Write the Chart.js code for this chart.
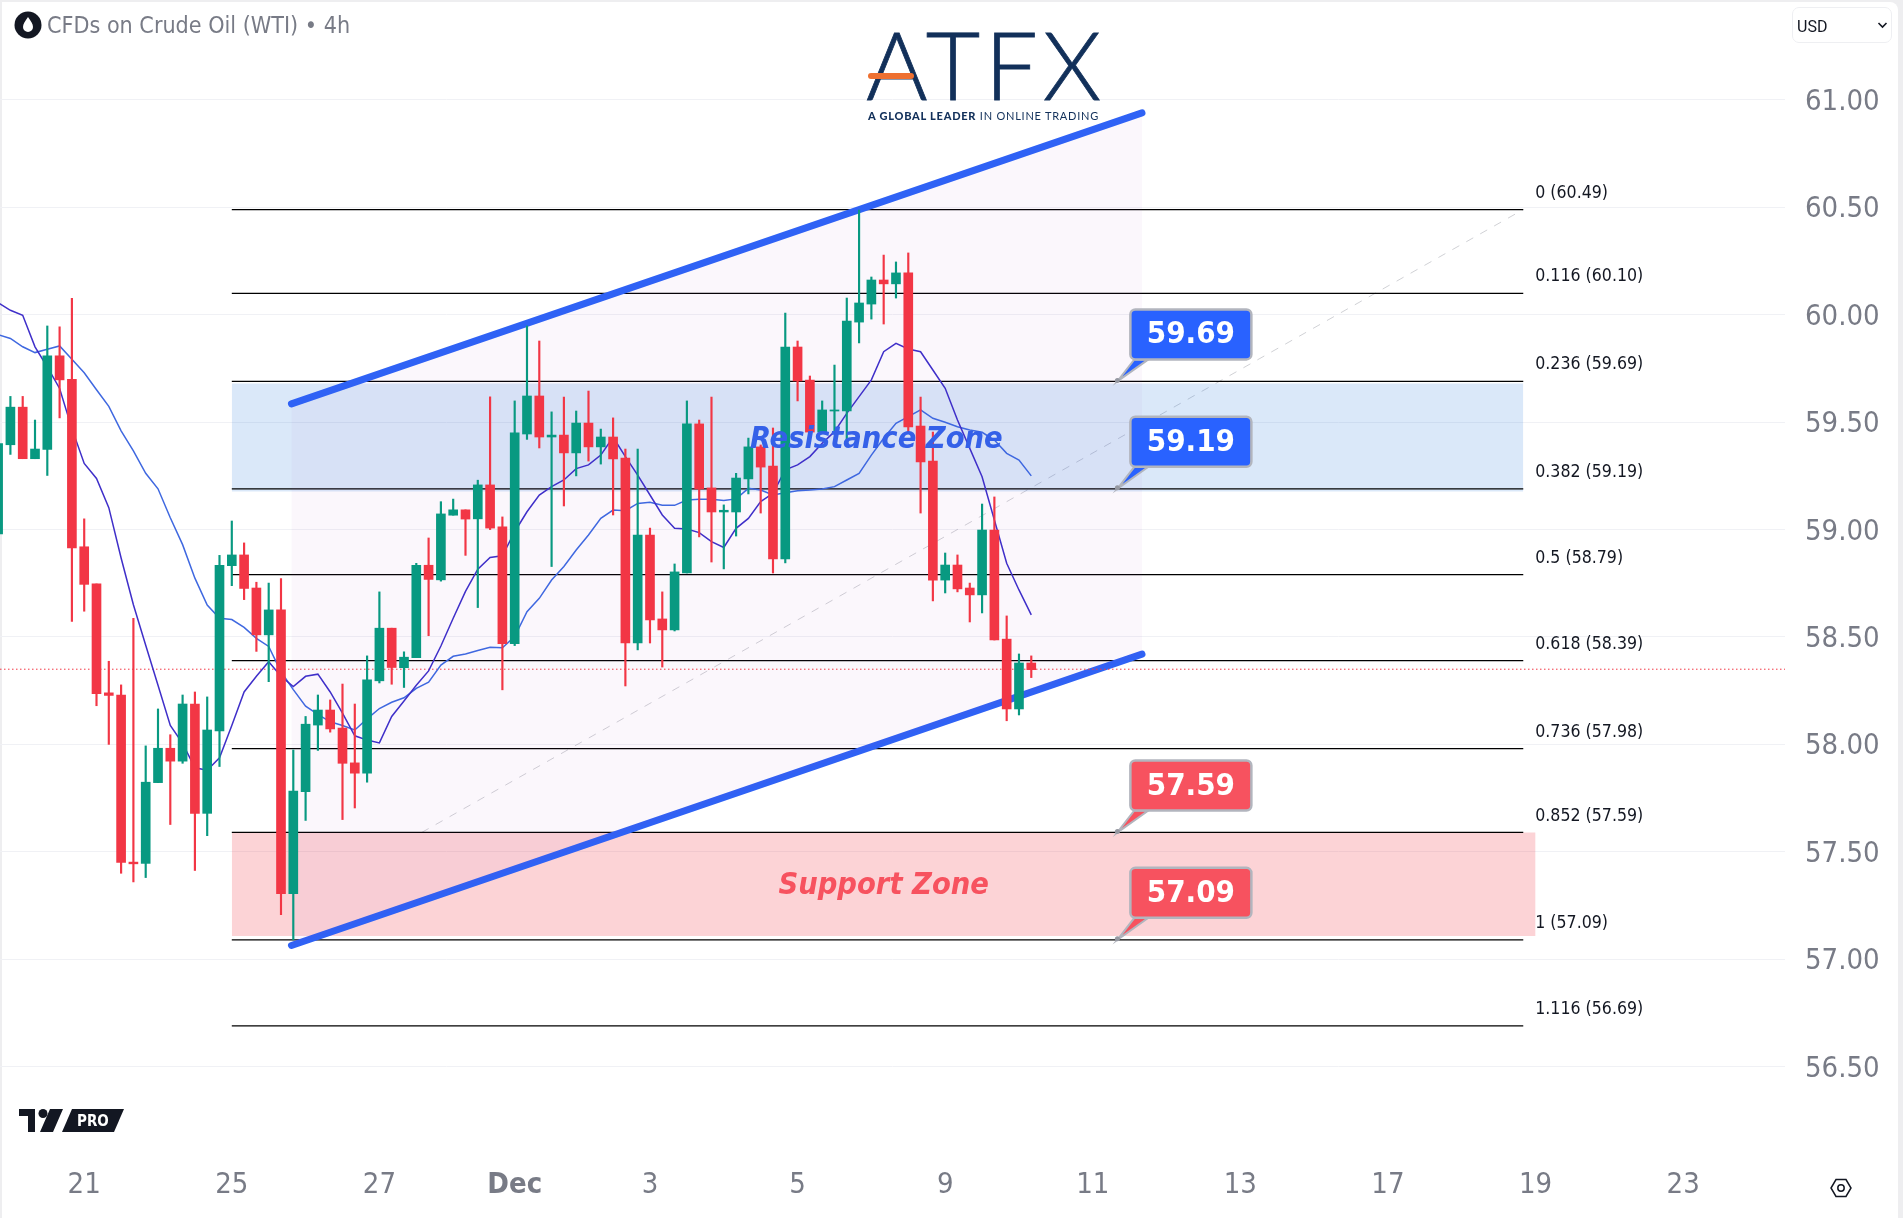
<!DOCTYPE html>
<html>
<head>
<meta charset="utf-8">
<title>CFDs on Crude Oil (WTI)</title>
<script src="https://cdn.jsdelivr.net/npm/chart.js@4/dist/chart.umd.min.js"></script>
<style>
  html, body { margin: 0; padding: 0; width: 1903px; height: 1218px; overflow: hidden; background: #eeeef0; }
  #panel { position: absolute; left: 2px; top: 2px; width: 1896px; height: 1216px; background: #fff; border-radius: 0 8px 0 0; }
  #chart { position: absolute; left: 0; top: 0; }
  .abs { position: absolute; white-space: nowrap; }
  #name { left: 47px; top: 12px; font: 23.1px "DejaVu Sans Condensed", "DejaVu Sans", sans-serif; color: #787b86; }
  #brand { left: 866px; top: 9px; font: 300 94px/110px Lato, sans-serif; color: #12305a; letter-spacing: 4.7px; -webkit-text-stroke: 0.8px #12305a; }
  #bar { left: 868px; top: 73px; width: 46px; height: 6px; border-radius: 3px; background: #ee7030; }
  #tag { left: 868px; top: 109px; font: 11px/14px Lato, sans-serif; color: #12305a; letter-spacing: 0.76px; }
  #tag b { font-weight: 900; }
  #cur { left: 1792px; top: 7px; width: 100px; height: 36px; box-sizing: border-box; border: 1px solid #eeeff2; border-radius: 7px; font: 16px/37px Roboto, sans-serif; color: #131722; padding-left: 4px; }
  #pro { left: 62px; top: 1109px; width: 62px; height: 23px; }
</style>
</head>
<body>
<div id="panel"></div>
<canvas id="chart" width="1903" height="1218"></canvas>

<svg class="abs" style="left:14px;top:11px" width="28" height="28" viewBox="0 0 28 28">
  <circle cx="14" cy="14" r="13.5" fill="#131722"/>
  <path d="M14 6 C17 10.5 19 13 19 16 A5 5 0 0 1 9 16 C9 13 11 10.5 14 6 Z" fill="#fff"/>
</svg>
<div class="abs" id="name">CFDs on Crude Oil (WTI) • 4h</div>

<div class="abs" id="brand">ATFX</div>
<div class="abs" id="bar"></div>
<div class="abs" id="tag"><b>A GLOBAL LEADER</b> IN ONLINE TRADING</div>

<div class="abs" id="cur">USD</div>
<svg class="abs" style="left:1877px;top:21px" width="11" height="9" viewBox="0 0 11 9">
  <path d="M1.5 2 L5.5 6 L9.5 2" fill="none" stroke="#131722" stroke-width="1.6"/>
</svg>

<svg class="abs" style="left:19px;top:1109px" width="44" height="23" viewBox="0 0 44 23">
  <path d="M0 0 H16 V23 H9 V7 H0 Z M21 23 L31 0 H44 L34 23 Z" fill="#131722"/>
  <circle cx="24" cy="4.5" r="4.5" fill="#131722"/>
</svg>
<svg class="abs" id="pro" viewBox="0 0 62 23">
  <path d="M10 0 H62 L52 23 H0 Z" fill="#131722"/>
  <text x="15" y="17" font-family="'DejaVu Sans Condensed', sans-serif" font-weight="bold" font-size="15" fill="#fff">PRO</text>
</svg>

<svg class="abs" style="left:1829px;top:1176px" width="24" height="24" viewBox="0 0 24 24">
  <path d="M7 3.5 H17 L22 12 L17 20.5 H7 L2 12 Z" fill="none" stroke="#131722" stroke-width="1.5"/>
  <circle cx="12" cy="12" r="3.2" fill="none" stroke="#131722" stroke-width="1.5"/>
</svg>

<script>
  'use strict';

  var opens = [58.98, 59.395, 59.57, 59.33, 59.373, 59.809, 59.70, 58.92, 58.747, 58.24, 58.23, 57.452, 57.446, 57.822, 57.982, 57.922, 58.188, 57.679, 58.063, 58.832, 58.882, 58.728, 58.51, 58.626, 57.305, 57.78, 58.09, 58.16, 58.076, 57.914, 57.866, 58.296, 58.541, 58.357, 58.404, 58.834, 58.766, 59.067, 59.092, 59.05, 59.208, 59.013, 58.469, 59.445, 59.622, 59.431, 59.44, 59.357, 59.496, 59.385, 59.431, 59.333, 58.472, 58.975, 58.584, 58.533, 58.798, 59.492, 59.194, 59.082, 59.082, 59.236, 59.385, 59.296, 58.863, 59.85, 59.696, 59.454, 59.552, 59.552, 59.966, 60.05, 60.162, 60.144, 60.195, 59.482, 59.319, 58.765, 58.835, 58.728, 58.696, 58.998, 58.49, 58.165, 58.379];
  var highs = [59.42, 59.62, 59.62, 59.51, 59.948, 59.944, 60.077, 59.05, 58.747, 58.387, 58.277, 58.587, 57.993, 58.165, 58.045, 58.23, 58.244, 58.221, 58.88, 59.04, 58.938, 58.755, 58.751, 58.772, 57.974, 58.13, 58.23, 58.207, 58.281, 58.188, 58.412, 58.71, 58.541, 58.431, 58.843, 58.961, 59.13, 59.142, 59.092, 59.23, 59.618, 59.059, 59.599, 59.948, 59.878, 59.548, 59.617, 59.552, 59.645, 59.468, 59.52, 59.375, 59.375, 59.007, 58.71, 58.84, 59.599, 59.51, 59.617, 59.115, 59.262, 59.426, 59.394, 59.473, 60.008, 59.878, 59.715, 59.599, 59.766, 60.078, 60.488, 60.176, 60.278, 60.246, 60.288, 59.617, 59.454, 58.891, 58.882, 58.751, 59.119, 59.152, 58.598, 58.421, 58.412];
  var lows = [58.96, 59.35, 59.33, 59.33, 59.252, 59.52, 58.572, 58.62, 58.18, 58.0, 57.40, 57.36, 57.38, 57.822, 57.627, 57.912, 57.413, 57.575, 57.897, 58.739, 58.674, 58.433, 58.292, 57.207, 57.09, 57.646, 57.972, 58.057, 57.65, 57.704, 57.824, 58.286, 58.28, 58.265, 58.404, 58.506, 58.76, 59.067, 58.88, 58.637, 59.0, 58.254, 58.46, 59.42, 59.38, 58.828, 59.11, 59.25, 59.319, 59.305, 59.068, 58.272, 58.44, 58.472, 58.36, 58.528, 58.798, 58.966, 58.849, 58.817, 58.97, 59.166, 59.077, 58.798, 58.845, 59.599, 59.454, 59.454, 59.448, 59.417, 59.869, 59.98, 59.957, 60.078, 59.45, 59.077, 58.668, 58.705, 58.71, 58.57, 58.612, 58.486, 58.11, 58.137, 58.311];
  var closes = [59.40, 59.57, 59.33, 59.375, 59.809, 59.697, 58.915, 58.745, 58.236, 58.228, 57.45, 57.444, 57.824, 57.982, 57.922, 58.188, 57.679, 58.067, 58.834, 58.882, 58.726, 58.51, 58.626, 57.305, 57.783, 58.094, 58.16, 58.072, 57.912, 57.866, 58.30, 58.541, 58.358, 58.406, 58.834, 58.768, 59.073, 59.092, 59.049, 59.208, 59.007, 58.469, 59.45, 59.622, 59.431, 59.44, 59.357, 59.496, 59.385, 59.431, 59.329, 58.472, 58.975, 58.579, 58.533, 58.803, 59.492, 59.189, 59.082, 59.09, 59.24, 59.385, 59.291, 58.863, 59.85, 59.692, 59.454, 59.557, 59.557, 59.971, 60.055, 60.162, 60.144, 60.195, 59.478, 59.315, 58.765, 58.835, 58.724, 58.696, 58.998, 58.486, 58.165, 58.379, 58.348];

  var fastMa = [60.056, 60.021, 59.998, 59.851, 59.757, 59.657, 59.47, 59.308, 59.238, 59.102, 58.868, 58.65, 58.462, 58.275, 58.088, 58.005, 57.891, 57.88, 57.938, 58.088, 58.244, 58.317, 58.385, 58.317, 58.269, 58.317, 58.327, 58.244, 58.146, 58.04, 58.02, 58.007, 58.13, 58.202, 58.275, 58.342, 58.458, 58.587, 58.712, 58.816, 58.87, 58.878, 58.99, 59.083, 59.161, 59.2, 59.231, 59.284, 59.301, 59.347, 59.43, 59.34, 59.254, 59.161, 59.068, 59.006, 59.003, 58.986, 58.944, 58.917, 59.006, 59.052, 59.13, 59.169, 59.278, 59.301, 59.34, 59.402, 59.456, 59.541, 59.619, 59.697, 59.828, 59.867, 59.841, 59.828, 59.743, 59.658, 59.51, 59.378, 59.246, 59.045, 58.843, 58.719, 58.603];
  var slowMa = [59.907, 59.89, 59.851, 59.824, 59.84, 59.855, 59.793, 59.73, 59.651, 59.574, 59.46, 59.366, 59.262, 59.19, 59.055, 58.93, 58.774, 58.649, 58.587, 58.581, 58.545, 58.494, 58.456, 58.338, 58.255, 58.178, 58.14, 58.105, 58.088, 58.067, 58.119, 58.167, 58.196, 58.217, 58.261, 58.29, 58.369, 58.41, 58.421, 58.437, 58.452, 58.45, 58.502, 58.618, 58.68, 58.765, 58.828, 58.905, 58.975, 59.052, 59.091, 59.088, 59.122, 59.127, 59.113, 59.113, 59.138, 59.141, 59.141, 59.135, 59.143, 59.192, 59.184, 59.161, 59.172, 59.181, 59.184, 59.189, 59.2, 59.231, 59.262, 59.347, 59.425, 59.495, 59.526, 59.557, 59.518, 59.5, 59.479, 59.464, 59.453, 59.417, 59.355, 59.324, 59.25];

  var xTickBars = [7, 19, 31, 42, 53, 65, 77, 89, 101, 113, 125, 137];
  var xTickLabels = ['21', '25', '27', 'Dec', '3', '5', '9', '11', '13', '17', '19', '23'];
  var yTicks = [61, 60.5, 60, 59.5, 59, 58.5, 58, 57.5, 57, 56.5];

  var fibRatios = ['0', '0.116', '0.236', '0.382', '0.5', '0.618', '0.736', '0.852', '1', '1.116'];
  var fibPrices = [60.49, 60.10, 59.69, 59.19, 58.79, 58.39, 57.98, 57.59, 57.09, 56.69];
  var fibRange = [19, 124];
  var trendBars = [34.44, 124];
  var trendPrices = [57.59, 60.49];

  var channelBars = [23.85, 93];
  var channelUpper = [59.585, 60.94];
  var channelLower = [57.064, 58.42];

  var resistanceBars = [19, 124];
  var resistanceTop = 59.68;
  var resistanceBottom = 59.177;
  var supportBars = [19, 125];
  var supportTop = 57.59;
  var supportBottom = 57.108;

  var lastPrice = 58.35;
  var xRange = [0.154, 145.28];
  var yRange = [56.135, 61.4655];

  var calloutBar = 91;
  var calloutPrices = [59.69, 59.19, 57.59, 57.09];
  var calloutLabels = ['59.69', '59.19', '57.59', '57.09'];
  var calloutColors = ['#2962ff', '#2962ff', '#f7525f', '#f7525f'];

  var UP = '#089981';
  var DOWN = '#f23645';
  var AXIS_FONT = '"DejaVu Sans Condensed", "DejaVu Sans", sans-serif';

  var bars = opens.map(function (o, i) {
    return i;
  });

  function candleColors() {
    return bars.map(function (i) {
      return closes[i] >= opens[i] ? UP : DOWN;
    });
  }

  function lineSet(xs, ys, style) {
    var set = {
      type: 'line',
      data: xs.map(function (x, i) {
        return { x: x, y: ys[i] };
      }),
      pointRadius: 0,
      borderWidth: 1,
      fill: false,
      tension: 0
    };
    Object.keys(style).forEach(function (k) {
      set[k] = style[k];
    });
    return set;
  }

  function buildDatasets() {
    var sets = [];
    // bodies and wicks on top, lower order draws later
    sets.push({
      type: 'bar',
      data: bars.map(function (i) {
        return { x: i, y: [opens[i], closes[i]] };
      }),
      backgroundColor: candleColors(),
      barThickness: 9,
      grouped: false,
      minBarLength: 1,
      order: 1
    });
    sets.push({
      type: 'bar',
      data: bars.map(function (i) {
        return { x: i, y: [lows[i], highs[i]] };
      }),
      backgroundColor: candleColors(),
      barThickness: 1.5,
      grouped: false,
      order: 2
    });
    sets.push(lineSet(bars, fastMa, { borderColor: '#3f2fc9', borderWidth: 1.5, order: 3 }));
    sets.push(lineSet(bars, slowMa, { borderColor: '#3f68e0', borderWidth: 1.5, order: 4 }));
    sets.push(lineSet(xRange, [lastPrice, lastPrice], {
      borderColor: '#f23645', borderDash: [1.5, 2.5], order: 5
    }));
    sets.push(lineSet(channelBars, channelUpper, {
      borderColor: '#2f62f5', borderWidth: 7, borderCapStyle: 'round', order: 6,
      fill: '+1', backgroundColor: 'rgba(156, 39, 176, 0.04)'
    }));
    sets.push(lineSet(channelBars, channelLower, {
      borderColor: '#2f62f5', borderWidth: 7, borderCapStyle: 'round', order: 7
    }));
    fibPrices.forEach(function (p) {
      sets.push(lineSet(fibRange, [p, p], { borderColor: '#000', borderWidth: 1.3, order: 8 }));
    });
    sets.push(lineSet(resistanceBars, [resistanceTop, resistanceTop], {
      borderWidth: 0, fill: '+1', backgroundColor: 'rgba(33, 120, 220, 0.17)', order: 9
    }));
    sets.push(lineSet(resistanceBars, [resistanceBottom, resistanceBottom], { borderWidth: 0, order: 10 }));
    sets.push(lineSet(supportBars, [supportTop, supportTop], {
      borderWidth: 0, fill: '+1', backgroundColor: 'rgba(242, 54, 69, 0.22)', order: 9
    }));
    sets.push(lineSet(supportBars, [supportBottom, supportBottom], { borderWidth: 0, order: 10 }));
    sets.push(lineSet(trendBars, trendPrices, {
      borderColor: 'rgba(120, 123, 134, 0.35)', borderDash: [8, 8], order: 11
    }));
    return sets;
  }

  function drawCallout(ctx, tipX, tipY, label, color) {
    var left = tipX + 13;
    var top = tipY - 72;
    ctx.beginPath();
    ctx.moveTo(tipX, tipY);
    ctx.lineTo(left + 4, top + 50);
    ctx.lineTo(left + 18, top + 50);
    ctx.closePath();
    ctx.fillStyle = color;
    ctx.strokeStyle = '#b2b5be';
    ctx.lineWidth = 2;
    ctx.fill();
    ctx.stroke();
    ctx.beginPath();
    ctx.arc(tipX, tipY - 1, 2.5, 0, Math.PI * 2);
    ctx.fillStyle = '#9598a1';
    ctx.fill();
    ctx.beginPath();
    ctx.roundRect(left, top, 121, 50, 5);
    ctx.fillStyle = color;
    ctx.lineWidth = 2.5;
    ctx.fill();
    ctx.stroke();
    ctx.fillStyle = '#fff';
    ctx.font = 'bold 31px ' + AXIS_FONT;
    ctx.textAlign = 'center';
    ctx.textBaseline = 'middle';
    ctx.fillText(label, left + 60.5, top + 26);
  }

  var annotations = {
    id: 'annotations',
    afterDatasetsDraw: function (chart) {
      var ctx = chart.ctx;
      var x = chart.scales.x;
      var y = chart.scales.y;
      ctx.save();
      ctx.textBaseline = 'middle';
      ctx.textAlign = 'left';
      ctx.fillStyle = '#131722';
      ctx.font = '17.6px ' + AXIS_FONT;
      fibPrices.forEach(function (p, i) {
        ctx.fillText(fibRatios[i] + ' (' + p.toFixed(2) + ')', x.getPixelForValue(fibRange[1]) + 12, y.getPixelForValue(p) - 16.5);
      });
      ctx.textAlign = 'center';
      ctx.font = 'italic bold 30.5px ' + AXIS_FONT;
      ctx.fillStyle = '#3460e8';
      ctx.fillText('Resistance Zone', x.getPixelForValue(71.4), y.getPixelForValue(59.418));
      ctx.fillStyle = '#f7525f';
      ctx.fillText('Support Zone', x.getPixelForValue(72), y.getPixelForValue(57.34));
      calloutPrices.forEach(function (p, i) {
        drawCallout(ctx, x.getPixelForValue(calloutBar), y.getPixelForValue(p), calloutLabels[i], calloutColors[i]);
      });
      ctx.restore();
    }
  };

  function noPadding(scale) {
    scale.paddingTop = 0;
    scale.paddingBottom = 0;
    scale.paddingLeft = 0;
    scale.paddingRight = 0;
  }

  new Chart(document.getElementById('chart'), {
    type: 'bar',
    data: { datasets: buildDatasets() },
    plugins: [annotations],
    options: {
      responsive: false,
      animation: false,
      devicePixelRatio: 1,
      layout: { padding: 0 },
      plugins: { legend: { display: false }, tooltip: { enabled: false } },
      scales: {
        x: {
          type: 'linear',
          offset: false,
          min: xRange[0],
          max: xRange[1],
          grid: { display: false, drawTicks: false, offset: false },
          border: { display: false },
          afterFit: function (scale) {
            scale.height = 73;
            noPadding(scale);
          },
          afterBuildTicks: function (scale) {
            scale.ticks = xTickBars.map(function (v) {
              return { value: v };
            });
          },
          ticks: {
            autoSkip: false,
            maxRotation: 0,
            padding: 23,
            color: '#787b86',
            font: function (c) {
              var isMonth = c.tick && c.tick.value === 42;
              return { family: AXIS_FONT, size: 29, weight: isMonth ? 'bold' : 'normal' };
            },
            callback: function (v) {
              return xTickLabels[xTickBars.indexOf(v)];
            }
          }
        },
        y: {
          type: 'linear',
          position: 'right',
          min: yRange[0],
          max: yRange[1],
          grid: { color: '#f0f1f5', lineWidth: 1, drawTicks: false },
          border: { display: false },
          afterFit: function (scale) {
            scale.width = 118;
            noPadding(scale);
          },
          afterBuildTicks: function (scale) {
            scale.ticks = yTicks.map(function (v) {
              return { value: v };
            });
          },
          ticks: {
            padding: 20,
            labelOffset: 2.5,
            color: '#787b86',
            font: { family: AXIS_FONT, size: 29 },
            callback: function (v) {
              return v.toFixed(2);
            }
          }
        }
      }
    }
  });
</script>
</body>
</html>
